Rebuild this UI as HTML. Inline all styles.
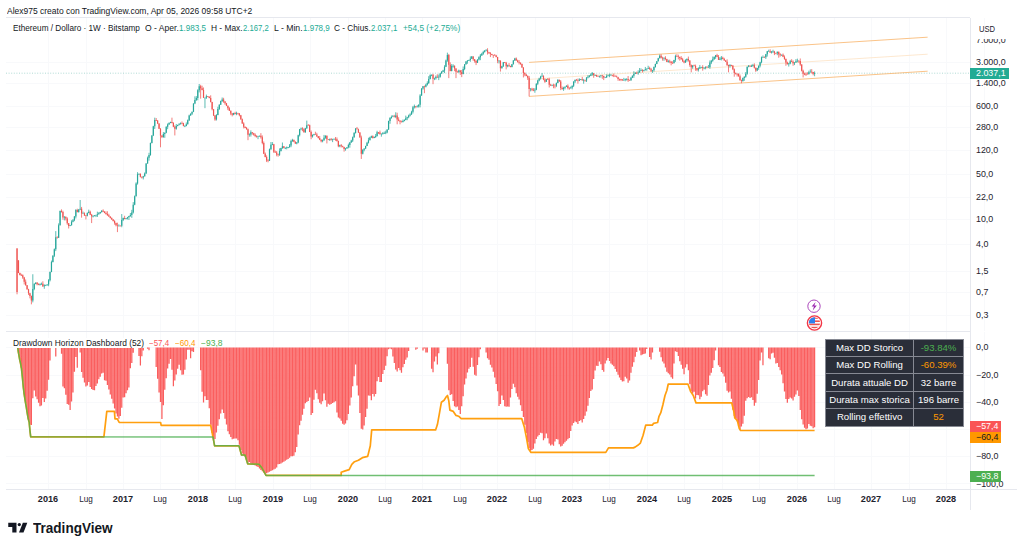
<!DOCTYPE html>
<html><head><meta charset="utf-8"><title>ETHUSD chart</title>
<style>
html,body{margin:0;padding:0;background:#fff;}
body{width:1024px;height:548px;position:relative;overflow:hidden;font-family:"Liberation Sans",sans-serif;color:#131722;}
.t{position:absolute;white-space:nowrap;font-size:8.6px;line-height:10px;height:10px;}
.c{transform:translateX(-50%);}
.b{font-weight:bold;}
.teal{color:#22ab94;}
.ax{font-size:8.7px;color:#1e222d;}
.lab{position:absolute;left:970px;width:31px;height:11.3px;line-height:11.3px;font-size:8.9px;color:#fff;box-sizing:border-box;padding-left:6px;white-space:nowrap;}
table{position:absolute;left:824.8px;top:338.7px;border-collapse:collapse;font-size:9.6px;color:#fff;}
td{background:#2a2e39;border:1px solid #868993;height:16.4px;padding:0;text-align:center;white-space:nowrap;line-height:16px;}
td.k{width:87.6px;} td.v{width:48.3px;}
</style></head><body>
<svg width="1024" height="548" viewBox="0 0 1024 548" style="position:absolute;left:0;top:0"><path d="M6 62.5H970M6 83.5H970M6 106.5H970M6 127.5H970M6 150.5H970M6 174.5H970M6 197.5H970M6 219.5H970M6 244.5H970M6 271.5H970M6 292.5H970M6 315.5H970M6 347.5H970M6 375.5H970M6 402.5H970M6 429.5H970M6 456.5H970M6 483.5H970M48.5 18V331M48.5 332V489M86.5 18V331M86.5 332V489M123.5 18V331M123.5 332V489M160.5 18V331M160.5 332V489M198.5 18V331M198.5 332V489M235.5 18V331M235.5 332V489M273.5 18V331M273.5 332V489M310.5 18V331M310.5 332V489M348.5 18V331M348.5 332V489M385.5 18V331M385.5 332V489M422.5 18V331M422.5 332V489M460.5 18V331M460.5 332V489M497.5 18V331M497.5 332V489M535.5 18V331M535.5 332V489M572.5 18V331M572.5 332V489M609.5 18V331M609.5 332V489M647.5 18V331M647.5 332V489M684.5 18V331M684.5 332V489M722.5 18V331M722.5 332V489M759.5 18V331M759.5 332V489M797.5 18V331M797.5 332V489M834.5 18V331M834.5 332V489M871.5 18V331M871.5 332V489M909.5 18V331M909.5 332V489M946.5 18V331M946.5 332V489M984.5 18V331M984.5 332V489" stroke="#f8f9fb" stroke-width="1" fill="none"/><path d="M6 17.5H970M6 331.5H970M6 489.5H1017M970.5 18V510" stroke="#e6e8ee" stroke-width="1" fill="none"/><path d="M6 73.2H970" stroke="#5fb5aa" stroke-width="0.7" stroke-dasharray="1 1.6" fill="none" opacity="0.7"/><path d="M529.1 62.4L927.6 37.2M529.1 96.4L927.6 71.2" stroke="#f9b46a" stroke-width="0.8" fill="none"/><path d="M529.1 79.4L927.6 54.2" stroke="#fde2c4" stroke-width="0.8" fill="none"/><path d="M32.82 274.24V302.36M34.26 283.09V290.19M35.69 282.24V284.25M39.99 283.39V285.61M41.43 282.55V284.68M44.30 284.33V288.80M45.73 284.65V286.08M47.17 284.25V285.93M48.60 279.10V286.21M50.03 271.50V281.41M51.47 260.60V272.21M52.90 255.20V262.46M54.34 248.44V257.04M55.77 231.10V251.10M58.64 223.36V238.01M60.08 210.49V225.53M64.38 216.15V220.40M70.12 224.91V226.20M71.55 220.26V225.48M72.99 219.04V222.27M74.42 216.02V221.20M75.85 209.16V218.50M78.72 209.15V212.73M80.16 200.00V210.15M83.03 211.55V213.67M87.33 212.40V216.38M88.76 209.63V213.34M93.07 215.08V217.43M94.50 215.02V216.09M95.94 214.71V217.08M97.37 211.67V216.97M98.81 212.17V214.61M100.24 211.74V213.73M101.67 210.17V212.64M118.89 224.34V226.38M121.76 214.04V227.26M123.19 217.62V221.05M126.06 218.01V219.46M127.49 216.90V219.46M128.93 215.82V220.00M130.36 213.00V216.88M131.80 209.84V217.84M133.23 202.11V213.54M134.67 195.52V205.25M136.10 182.31V196.46M137.54 172.18V184.65M138.97 173.28V174.77M143.27 175.83V179.44M144.71 172.44V176.65M146.14 163.20V173.84M147.58 156.55V163.73M149.01 152.80V160.65M150.45 142.55V155.75M151.88 135.27V143.43M153.32 125.78V136.08M154.75 117.66V128.94M163.36 132.10V137.82M164.79 132.59V137.81M166.23 126.29V133.23M167.66 123.44V129.18M169.09 122.28V124.80M170.53 121.71V123.24M176.27 123.99V129.69M177.70 124.64V126.35M179.14 123.03V125.39M180.57 122.43V124.39M184.87 125.16V127.13M186.31 122.44V126.31M187.74 119.51V124.48M189.18 114.67V121.01M190.61 113.37V115.73M192.05 111.63V115.05M193.48 103.37V112.14M194.91 96.33V104.16M196.35 96.15V100.89M197.78 89.23V100.28M199.22 84.01V92.45M204.96 97.47V108.18M206.39 94.60V98.93M216.43 114.12V120.50M217.87 106.77V115.34M219.30 104.23V109.96M220.73 100.62V104.92M222.17 97.52V102.05M233.64 112.75V115.24M236.51 111.68V115.21M249.42 133.40V136.66M250.86 130.39V136.57M258.03 135.78V139.18M259.46 135.69V136.54M269.51 148.56V161.03M270.94 142.02V149.88M272.38 142.08V145.18M279.55 148.38V155.86M280.98 147.83V151.54M282.42 142.51V148.92M285.29 147.53V149.16M286.72 146.53V149.39M288.15 146.94V148.27M289.59 144.00V147.77M291.02 139.69V147.23M292.46 138.79V141.85M296.76 142.05V144.32M298.20 134.68V143.22M299.63 128.94V136.46M301.06 127.58V130.25M305.37 127.84V132.77M306.80 120.60V128.93M312.54 134.46V137.61M313.97 133.83V135.55M322.58 139.44V142.32M324.02 134.92V140.77M325.45 135.13V138.75M329.75 138.52V140.94M332.62 138.76V142.13M334.06 138.71V139.60M339.79 144.72V147.23M345.53 147.92V150.69M346.97 147.08V148.73M348.40 143.65V148.28M349.84 141.96V147.71M351.27 139.77V142.75M352.70 136.55V142.04M354.14 132.09V137.74M355.57 128.08V133.52M362.75 149.29V154.45M364.18 148.40V151.34M365.61 145.72V149.08M367.05 141.83V146.12M368.48 137.75V143.53M369.92 136.71V140.33M371.35 135.64V138.09M374.22 136.44V138.21M375.66 134.00V137.91M377.09 130.76V136.58M381.39 133.50V136.66M382.83 132.05V134.67M384.26 131.59V134.01M385.70 130.68V134.13M387.13 129.38V133.31M388.57 120.65V129.88M390.00 117.13V123.77M391.43 115.51V118.72M392.87 115.02V117.17M395.74 112.25V118.13M402.91 119.56V122.50M404.35 119.27V121.34M405.78 115.61V120.27M407.21 116.75V120.19M408.65 114.65V118.24M410.08 113.30V116.41M411.52 110.78V114.81M412.95 105.90V113.44M414.39 104.59V108.47M417.26 105.17V107.19M418.69 104.33V107.58M420.12 94.13V107.37M421.56 88.22V95.82M422.99 86.03V89.65M425.86 83.74V87.38M427.30 81.30V85.63M428.73 76.18V84.00M430.17 74.27V79.43M431.60 74.61V76.18M434.47 77.67V80.14M435.90 75.45V79.67M438.77 74.50V80.14M440.21 72.89V77.66M441.64 71.09V73.82M443.08 69.82V72.04M444.51 65.24V73.14M445.94 59.56V67.06M447.38 52.66V61.84M451.68 64.12V71.38M453.12 64.27V67.62M458.85 69.64V73.06M463.16 66.48V74.35M464.59 64.21V70.15M466.03 61.08V64.71M467.46 60.25V63.78M468.90 59.72V60.92M470.33 56.42V61.79M471.76 56.09V58.93M477.50 59.28V62.94M478.94 56.34V60.43M480.37 53.97V60.17M481.81 52.80V55.88M483.24 50.76V54.88M484.67 50.03V52.62M486.11 49.08V51.19M499.02 60.03V63.44M501.89 65.76V68.49M503.32 62.01V66.98M507.63 64.64V67.29M511.93 63.98V67.37M513.36 60.02V64.47M514.80 57.85V60.88M530.58 88.17V91.37M534.88 88.15V92.76M536.32 83.22V90.23M537.75 79.69V85.12M539.18 77.72V81.32M540.62 75.78V79.60M542.05 73.05V76.58M546.36 79.06V81.94M552.09 84.45V86.14M556.40 82.43V87.07M557.83 79.07V83.33M563.57 86.79V90.84M565.00 86.52V89.40M566.44 85.25V87.01M570.74 86.50V88.61M572.18 85.49V89.33M573.61 81.39V87.04M575.05 79.69V83.09M579.35 78.28V81.14M580.78 78.99V80.09M583.65 78.92V83.71M586.52 77.19V82.03M587.96 75.18V78.40M589.39 75.09V77.46M590.82 73.20V76.13M592.26 72.03V75.57M595.13 74.47V76.00M599.43 75.60V77.68M600.87 75.08V77.67M605.17 76.83V78.09M606.60 74.36V77.74M608.04 74.58V76.41M609.47 73.70V77.19M610.91 73.87V75.53M623.82 77.88V80.54M625.25 78.50V81.30M626.69 78.19V80.54M630.99 76.85V80.86M632.42 75.36V78.08M633.86 71.19V77.84M635.29 71.99V74.04M638.16 70.31V74.77M639.60 68.00V72.73M641.03 68.39V71.01M643.90 69.78V71.45M645.33 66.96V70.64M646.77 68.46V70.79M648.20 65.76V68.93M652.51 69.89V72.92M653.94 66.48V71.60M655.38 63.62V67.66M656.81 61.01V64.20M658.24 57.82V61.45M659.68 54.52V58.38M663.98 57.52V60.79M668.29 59.80V62.71M674.02 59.80V63.60M675.46 54.67V61.88M685.50 59.35V62.79M686.93 58.30V61.77M692.67 65.19V68.77M698.41 67.36V71.54M699.84 64.96V68.87M701.28 66.80V67.91M704.15 67.32V69.26M705.58 66.52V69.32M708.45 65.02V67.63M709.88 60.44V68.80M711.32 59.92V64.11M712.75 56.53V61.81M714.19 56.34V59.80M715.62 54.98V58.80M719.93 57.05V60.10M721.36 56.00V60.40M729.97 64.11V67.63M742.88 77.52V81.71M744.31 76.27V80.82M745.75 72.06V77.66M747.18 66.49V74.74M748.61 65.05V67.27M751.48 64.75V66.65M752.92 63.86V66.76M757.22 67.74V71.15M758.66 65.43V69.83M760.09 61.78V67.35M761.53 56.53V63.31M762.96 55.48V57.86M765.83 53.93V58.94M767.26 50.94V56.59M768.70 49.70V51.63M771.57 50.97V53.52M773.00 49.76V52.65M777.30 51.56V55.18M781.61 54.58V55.60M788.78 62.98V66.57M790.21 59.92V64.30M794.52 62.22V65.08M795.95 59.13V62.75M797.39 58.68V62.31M808.86 70.71V74.74M810.30 69.38V72.58M814.60 71.41V76.22" stroke="#26a69a" stroke-width="0.75" fill="none"/><path d="M17.04 248.15V294.30M18.48 260.10V273.13M19.91 272.57V275.37M21.34 273.79V275.58M22.78 274.37V278.87M24.21 276.90V284.47M25.65 279.50V285.62M27.08 285.00V289.79M28.52 288.84V294.93M29.95 292.87V298.36M31.39 295.51V304.33M37.12 282.00V285.30M38.56 283.36V285.18M42.86 281.30V287.00M57.21 236.24V238.66M61.51 209.38V212.60M62.94 210.70V219.76M65.81 216.50V220.41M67.25 217.31V224.72M68.68 223.02V228.49M77.29 208.76V212.45M81.59 206.94V217.66M84.46 212.39V215.94M85.90 214.97V219.46M90.20 210.66V215.09M91.63 213.90V223.07M103.11 209.33V212.12M104.54 211.10V213.22M105.98 211.33V214.67M107.41 211.27V215.76M108.85 213.73V216.90M110.28 216.32V218.50M111.72 217.37V219.76M113.15 219.03V221.51M114.58 220.21V224.68M116.02 222.61V226.37M117.45 222.68V232.10M120.32 225.42V226.32M124.63 215.75V219.27M140.40 173.27V177.46M141.84 176.61V178.51M156.18 118.00V121.06M157.62 120.18V124.05M159.05 123.36V128.96M160.49 128.12V147.29M161.92 135.27V138.08M171.96 117.66V123.41M173.40 122.21V127.16M174.83 125.33V135.44M182.00 121.46V124.26M183.44 122.81V126.33M200.65 84.81V98.70M202.09 85.69V90.33M203.52 87.47V98.04M207.82 96.05V97.14M209.26 96.39V98.32M210.69 95.30V102.41M212.13 101.81V110.37M213.56 108.96V116.06M215.00 115.05V120.82M223.60 97.80V102.80M225.04 101.11V104.80M226.47 102.92V106.08M227.91 105.54V110.10M229.34 107.15V111.00M230.78 110.49V115.20M232.21 112.97V116.40M235.08 111.80V114.37M237.95 112.77V114.65M239.38 113.00V116.34M240.82 114.90V119.82M242.25 118.55V123.84M243.69 122.28V128.43M245.12 126.57V128.23M246.55 126.96V129.71M247.99 128.50V140.18M252.29 132.05V134.68M253.73 132.80V135.68M255.16 133.42V137.20M256.60 135.23V137.64M260.90 133.15V138.64M262.33 135.41V144.30M263.77 141.49V154.05M265.20 152.51V157.36M266.64 155.36V162.05M268.07 159.20V162.32M273.81 143.88V152.97M275.24 150.59V152.79M276.68 151.02V156.28M278.11 153.60V156.63M283.85 146.10V148.39M293.89 139.40V142.22M295.33 141.34V143.96M302.50 127.29V131.17M303.93 128.25V132.59M308.24 124.00V125.64M309.67 124.60V132.14M311.11 130.51V139.23M315.41 131.72V134.74M316.84 132.78V136.96M318.28 136.00V138.50M319.71 136.07V140.12M321.15 139.40V142.37M326.88 135.12V143.43M328.32 139.06V140.11M331.19 138.00V140.54M335.49 136.99V140.84M336.93 137.44V141.59M338.36 140.60V147.20M341.23 144.07V147.46M342.66 145.66V147.43M344.10 146.74V151.64M357.01 126.96V129.38M358.44 128.64V133.02M359.88 132.16V137.61M361.31 135.65V158.95M372.79 135.38V138.52M378.52 132.02V134.04M379.96 130.56V134.77M394.30 114.86V117.41M397.17 112.73V124.29M398.61 117.26V121.21M400.04 120.08V124.29M401.48 120.66V122.24M415.82 106.15V108.24M424.43 85.63V93.19M433.03 73.83V84.16M437.34 74.27V77.79M448.81 53.94V78.14M450.25 62.34V71.29M454.55 65.46V71.16M455.99 68.21V78.14M457.42 70.73V72.55M460.29 70.13V74.96M461.72 69.98V77.13M473.20 56.24V60.85M474.63 59.02V62.63M476.07 60.11V65.10M487.54 48.26V54.55M488.98 51.93V53.76M490.41 52.17V57.07M491.85 53.79V55.27M493.28 54.73V57.97M494.72 54.03V55.58M496.15 54.83V57.37M497.58 56.90V63.23M500.45 60.33V71.59M504.76 61.99V63.10M506.19 61.88V69.40M509.06 63.13V66.98M510.49 65.73V67.35M516.23 57.44V60.75M517.67 59.69V62.59M519.10 60.10V64.42M520.54 62.36V64.79M521.97 63.59V67.84M523.41 67.24V77.43M524.84 72.28V76.24M526.27 74.16V76.25M527.71 75.34V79.90M529.14 75.96V96.40M532.01 87.79V91.10M533.45 88.10V91.16M543.49 75.46V80.21M544.92 78.48V82.84M547.79 78.02V79.60M549.23 77.79V87.48M550.66 83.81V85.87M553.53 83.67V88.23M554.96 84.02V88.38M559.27 79.38V81.78M560.70 80.04V90.13M562.14 86.51V89.78M567.87 84.36V89.40M569.31 87.16V89.77M576.48 78.95V80.60M577.91 78.55V83.62M582.22 76.90V80.79M585.09 79.62V81.66M593.69 73.05V77.78M596.56 74.71V76.90M598.00 75.52V76.76M602.30 74.91V78.83M603.73 75.70V80.09M612.34 74.77V76.36M613.78 73.50V77.10M615.21 75.21V76.64M616.64 75.51V77.29M618.08 76.84V80.79M619.51 78.63V80.77M620.95 78.80V81.12M622.38 79.06V80.86M628.12 76.04V81.95M629.55 79.60V80.54M636.73 71.64V73.64M642.47 69.22V72.49M649.64 66.73V69.67M651.07 67.92V72.02M661.11 54.20V58.47M662.55 56.74V60.65M665.42 56.18V60.22M666.85 58.78V62.16M669.72 59.65V63.21M671.15 60.97V65.32M672.59 61.34V63.74M676.89 54.24V56.95M678.33 54.65V59.32M679.76 56.57V60.62M681.20 56.10V59.77M682.63 57.84V61.93M684.06 60.31V63.27M688.37 56.59V61.68M689.80 60.23V66.78M691.24 64.46V72.32M694.11 64.58V66.34M695.54 64.62V70.77M696.97 68.02V71.16M702.71 65.18V70.68M707.02 66.32V67.70M717.06 53.80V57.17M718.49 55.00V59.95M722.79 56.68V59.34M724.23 57.81V60.75M725.66 60.08V61.94M727.10 59.35V65.98M728.53 64.68V72.32M731.40 64.78V66.10M732.84 65.19V70.12M734.27 68.49V76.70M735.70 72.48V74.52M737.14 73.50V76.57M738.57 73.28V76.68M740.01 74.59V80.58M741.44 79.61V83.27M750.05 65.56V67.05M754.35 63.35V68.49M755.79 67.57V71.89M764.39 56.39V57.84M770.13 49.31V52.88M774.44 50.90V55.10M775.87 52.70V54.20M778.74 51.61V57.73M780.17 53.16V56.70M783.04 53.49V57.13M784.48 55.44V59.76M785.91 58.50V65.76M787.35 61.62V64.45M791.65 59.19V61.93M793.08 60.37V65.77M798.82 60.31V62.66M800.26 58.47V65.84M801.69 64.27V71.45M803.12 69.67V77.43M804.56 72.76V75.13M805.99 72.39V75.97M807.43 72.34V74.16M811.73 69.11V73.55M813.17 71.88V75.31" stroke="#ef5350" stroke-width="0.75" fill="none"/><path d="M32.82 288.99V300.44M34.26 283.91V288.99M35.69 282.87V283.91M39.99 284.37V285.01M41.43 283.82V284.42M44.30 285.25V286.26M45.73 284.98V285.58M47.17 284.42V285.02M48.60 280.22V284.42M50.03 272.01V280.22M51.47 261.99V272.01M52.90 255.79V261.99M54.34 249.33V255.79M55.77 237.24V249.33M58.64 225.23V237.68M60.08 210.88V225.23M64.38 216.74V217.60M70.12 225.13V226.02M71.55 221.72V225.13M72.99 220.28V221.72M74.42 216.59V220.28M75.85 210.09V216.59M78.72 209.46V211.89M80.16 208.75V209.46M83.03 213.25V213.85M87.33 212.96V215.75M88.76 211.86V212.96M93.07 215.89V216.49M94.50 215.58V216.18M95.94 215.15V215.75M97.37 214.28V215.15M98.81 213.23V214.28M100.24 212.08V213.23M101.67 210.65V212.08M118.89 225.76V226.36M121.76 220.07V225.76M123.19 217.89V220.07M126.06 218.21V218.93M127.49 217.16V218.21M128.93 216.07V217.16M130.36 215.06V216.07M131.80 212.40V215.06M133.23 204.78V212.40M134.67 196.17V204.78M136.10 183.60V196.17M137.54 174.17V183.60M138.97 173.97V174.57M143.27 176.20V177.53M144.71 173.62V176.20M146.14 163.50V173.62M147.58 157.84V163.50M149.01 155.04V157.84M150.45 142.91V155.04M151.88 135.44V142.91M153.32 126.19V135.44M154.75 120.03V126.19M163.36 133.93V136.89M164.79 132.85V133.93M166.23 126.70V132.85M167.66 124.38V126.70M169.09 123.09V124.38M170.53 122.07V123.09M176.27 125.88V128.71M177.70 125.08V125.88M179.14 124.22V125.08M180.57 123.24V124.22M184.87 125.96V126.56M186.31 124.18V125.96M187.74 120.16V124.18M189.18 115.56V120.16M190.61 113.78V115.56M192.05 111.81V113.78M193.48 103.58V111.81M194.91 99.89V103.58M196.35 98.00V99.89M197.78 90.19V98.00M199.22 86.25V90.19M204.96 97.65V98.25M206.39 96.33V97.65M216.43 115.01V119.46M217.87 109.03V115.01M219.30 104.67V109.03M220.73 100.93V104.67M222.17 99.48V100.93M233.64 113.04V114.73M236.51 113.25V114.07M249.42 134.45V135.05M250.86 132.21V134.45M258.03 136.21V136.86M259.46 135.87V136.47M269.51 149.29V160.77M270.94 144.84V149.29M272.38 144.34V144.94M279.55 151.02V154.79M280.98 148.02V151.02M282.42 146.25V148.02M285.29 147.81V148.41M286.72 147.40V148.00M288.15 147.12V147.72M289.59 145.52V147.12M291.02 140.89V145.52M292.46 139.90V140.89M296.76 142.56V143.43M298.20 135.26V142.56M299.63 129.23V135.26M301.06 128.61V129.23M305.37 128.25V132.19M306.80 125.27V128.25M312.54 134.92V136.60M313.97 134.17V134.92M322.58 140.34V141.30M324.02 137.67V140.34M325.45 135.96V137.67M329.75 139.28V139.88M332.62 139.26V139.86M334.06 138.86V139.46M339.79 145.27V146.13M345.53 148.53V149.13M346.97 147.29V148.53M348.40 145.01V147.29M349.84 142.43V145.01M351.27 140.39V142.43M352.70 137.26V140.39M354.14 133.10V137.26M355.57 128.48V133.10M362.75 149.82V153.79M364.18 148.59V149.82M365.61 145.95V148.59M367.05 142.87V145.95M368.48 140.14V142.87M369.92 137.45V140.14M371.35 136.17V137.45M374.22 136.99V137.89M375.66 136.01V136.99M377.09 132.31V136.01M381.39 133.72V134.32M382.83 133.31V133.91M384.26 133.21V133.81M385.70 132.49V133.21M387.13 129.61V132.49M388.57 121.01V129.61M390.00 118.03V121.01M391.43 117.00V118.03M392.87 116.51V117.11M395.74 115.48V116.98M402.91 121.02V121.92M404.35 119.98V121.02M405.78 118.23V119.98M407.21 117.33V118.23M408.65 115.60V117.33M410.08 114.53V115.60M411.52 111.78V114.53M412.95 107.22V111.78M414.39 106.33V107.22M417.26 106.54V107.14M418.69 104.67V106.54M420.12 95.47V104.67M421.56 88.53V95.47M422.99 86.22V88.53M425.86 84.67V86.77M427.30 82.97V84.67M428.73 79.00V82.97M430.17 75.20V79.00M431.60 74.80V75.40M434.47 78.25V78.86M435.90 76.63V78.25M438.77 76.75V77.59M440.21 73.58V76.75M441.64 71.82V73.58M443.08 70.38V71.82M444.51 66.86V70.38M445.94 60.58V66.86M447.38 55.06V60.58M451.68 65.91V71.12M453.12 65.85V66.45M458.85 70.42V71.88M463.16 68.91V73.98M464.59 64.37V68.91M466.03 61.48V64.37M467.46 60.40V61.48M468.90 60.08V60.68M470.33 58.71V60.08M471.76 56.60V58.71M477.50 59.48V62.77M478.94 57.34V59.48M480.37 55.54V57.34M481.81 53.75V55.54M483.24 51.99V53.75M484.67 50.73V51.99M486.11 50.25V50.85M499.02 60.67V61.27M501.89 66.14V68.34M503.32 62.33V66.14M507.63 65.18V66.16M511.93 64.20V67.11M513.36 60.62V64.20M514.80 58.47V60.62M530.58 88.69V89.29M534.88 89.72V90.54M536.32 83.66V89.72M537.75 80.40V83.66M539.18 78.43V80.40M540.62 76.40V78.43M542.05 75.65V76.40M546.36 79.34V81.73M552.09 85.26V85.86M556.40 83.00V85.79M557.83 80.01V83.00M563.57 87.83V89.11M565.00 86.68V87.83M566.44 85.77V86.68M570.74 87.53V88.14M572.18 85.80V87.53M573.61 81.59V85.80M575.05 79.86V81.59M579.35 79.59V80.79M580.78 79.31V79.91M583.65 80.24V80.84M586.52 77.60V80.46M587.96 76.74V77.60M589.39 75.84V76.74M590.82 74.47V75.84M592.26 73.22V74.47M595.13 74.99V75.59M599.43 75.98V76.58M600.87 75.47V76.07M605.17 77.47V78.07M606.60 75.91V77.47M608.04 75.38V75.98M609.47 75.00V75.60M610.91 74.95V75.55M623.82 80.01V80.61M625.25 79.29V80.01M626.69 78.89V79.49M630.99 77.85V80.32M632.42 75.67V77.85M633.86 73.88V75.67M635.29 73.12V73.88M638.16 72.54V73.32M639.60 70.67V72.54M641.03 69.89V70.67M643.90 70.01V70.82M645.33 69.35V70.01M646.77 68.68V69.35M648.20 68.00V68.68M652.51 70.18V70.78M653.94 66.98V70.18M655.38 63.91V66.98M656.81 61.25V63.91M658.24 58.18V61.25M659.68 55.80V58.18M663.98 57.73V58.40M668.29 61.13V62.00M674.02 60.02V63.03M675.46 56.00V60.02M685.50 60.33V62.58M686.93 58.94V60.33M692.67 65.49V67.18M698.41 68.48V69.80M699.84 67.15V68.48M701.28 66.99V67.59M704.15 67.64V68.24M705.58 66.75V67.64M708.45 67.24V67.84M709.88 62.45V67.24M711.32 60.72V62.45M712.75 59.34V60.72M714.19 56.98V59.34M715.62 55.14V56.98M719.93 58.65V59.75M721.36 57.86V58.65M729.97 65.03V65.98M742.88 78.12V81.10M744.31 76.87V78.12M745.75 73.84V76.87M747.18 66.86V73.84M748.61 65.78V66.86M751.48 66.05V66.65M752.92 65.26V66.05M757.22 68.06V70.55M758.66 65.67V68.06M760.09 62.26V65.67M761.53 57.34V62.26M762.96 56.99V57.59M765.83 54.26V57.28M767.26 51.33V54.26M768.70 51.20V51.80M771.57 51.70V52.62M773.00 51.58V52.18M777.30 51.78V53.29M781.61 54.79V55.39M788.78 63.39V64.30M790.21 61.31V63.39M794.52 62.39V63.29M795.95 61.33V62.39M797.39 60.66V61.33M808.86 72.22V73.94M810.30 71.71V72.31M814.60 73.07V73.67" stroke="#26a69a" stroke-width="1.2" fill="none"/><path d="M17.04 248.50V292.00M18.48 260.42V272.91M19.91 272.91V275.06M21.34 275.06V275.66M22.78 275.24V277.46M24.21 277.46V281.68M25.65 281.68V285.27M27.08 285.27V289.37M28.52 289.37V293.21M29.95 293.21V296.08M31.39 296.08V300.44M37.12 282.87V284.29M38.56 284.29V285.01M42.86 283.82V286.26M57.21 237.24V237.84M61.51 210.88V212.09M62.94 212.09V217.60M65.81 216.74V218.55M67.25 218.55V223.21M68.68 223.21V226.02M77.29 210.09V211.89M81.59 208.75V213.38M84.46 213.25V215.50M85.90 215.50V216.10M90.20 211.86V214.73M91.63 214.73V216.26M103.11 210.65V211.82M104.54 211.82V213.03M105.98 213.03V214.11M107.41 214.11V215.15M108.85 215.15V216.58M110.28 216.58V218.02M111.72 218.02V219.45M113.15 219.45V220.89M114.58 220.89V222.95M116.02 222.95V225.25M117.45 225.25V225.86M120.32 225.76V226.36M124.63 217.89V218.93M140.40 173.97V176.84M141.84 176.84V177.53M156.18 120.03V120.63M157.62 120.50V123.57M159.05 123.57V128.68M160.49 128.68V135.52M161.92 135.52V136.89M171.96 122.07V122.90M173.40 122.90V126.87M174.83 126.87V128.71M182.00 123.24V123.84M183.44 123.34V125.96M200.65 86.25V88.29M202.09 88.29V90.01M203.52 90.01V97.70M207.82 96.33V96.93M209.26 96.63V98.01M210.69 98.01V102.12M212.13 102.12V109.29M213.56 109.29V115.45M215.00 115.45V119.46M223.60 99.48V101.47M225.04 101.47V103.27M226.47 103.27V105.87M227.91 105.87V108.19M229.34 108.19V110.67M230.78 110.67V113.56M232.21 113.56V114.73M235.08 113.04V114.07M237.95 113.25V113.85M239.38 113.50V115.25M240.82 115.25V119.22M242.25 119.22V123.61M243.69 123.61V126.78M245.12 126.78V127.91M246.55 127.91V129.30M247.99 129.30V134.87M252.29 132.21V133.37M253.73 133.37V134.84M255.16 134.84V135.93M256.60 135.93V136.86M260.90 135.87V137.23M262.33 137.23V143.02M263.77 143.02V153.86M265.20 153.86V156.90M266.64 156.90V160.43M268.07 160.43V161.03M273.81 144.34V151.69M275.24 151.69V152.61M276.68 152.61V154.40M278.11 154.40V155.00M283.85 146.25V147.99M293.89 139.90V141.69M295.33 141.69V143.43M302.50 128.61V129.28M303.93 129.28V132.19M308.24 125.27V125.87M309.67 125.29V131.94M311.11 131.94V136.60M315.41 134.17V134.77M316.84 134.52V136.15M318.28 136.15V137.94M319.71 137.94V139.86M321.15 139.86V141.30M326.88 135.96V139.27M328.32 139.27V139.87M331.19 139.28V139.88M335.49 138.86V139.46M336.93 139.15V140.90M338.36 140.90V146.13M341.23 145.27V146.13M342.66 146.13V147.02M344.10 147.02V148.90M357.01 128.48V129.15M358.44 129.15V132.44M359.88 132.44V137.43M361.31 137.43V153.79M372.79 136.17V137.89M378.52 132.31V132.91M379.96 132.46V133.98M394.30 116.51V117.11M397.17 115.48V119.62M398.61 119.62V120.64M400.04 120.64V121.67M401.48 121.67V122.27M415.82 106.33V107.03M424.43 86.22V86.82M433.03 74.80V78.86M437.34 76.63V77.59M448.81 55.06V64.63M450.25 64.63V71.12M454.55 65.85V68.57M455.99 68.57V71.64M457.42 71.64V72.24M460.29 70.42V72.26M461.72 72.26V73.98M473.20 56.60V59.25M474.63 59.25V61.00M476.07 61.00V62.77M487.54 50.25V52.17M488.98 52.17V53.22M490.41 53.22V54.06M491.85 54.06V54.91M493.28 54.91V55.51M494.72 55.21V55.81M496.15 55.42V57.07M497.58 57.07V60.75M500.45 60.67V68.34M504.76 62.33V62.93M506.19 62.68V66.16M509.06 65.18V66.05M510.49 66.05V67.11M516.23 58.47V60.60M517.67 60.60V61.89M519.10 61.89V62.78M520.54 62.78V64.10M521.97 64.10V67.49M523.41 67.49V73.03M524.84 73.03V74.40M526.27 74.40V76.02M527.71 76.02V77.86M529.14 77.86V89.09M532.01 88.69V89.64M533.45 89.64V90.54M543.49 75.65V79.50M544.92 79.50V81.73M547.79 79.34V79.94M549.23 79.37V84.64M550.66 84.64V85.46M553.53 85.26V85.86M554.96 85.77V86.37M559.27 80.01V81.38M560.70 81.38V87.89M562.14 87.89V89.11M567.87 85.77V88.02M569.31 88.02V88.62M576.48 79.86V80.46M577.91 80.40V81.00M582.22 79.31V80.34M585.09 80.24V80.84M593.69 73.22V75.06M596.56 74.99V76.20M598.00 76.20V76.80M602.30 75.47V76.07M603.73 75.99V77.57M612.34 74.95V75.55M613.78 75.54V76.14M615.21 76.01V76.61M616.64 76.45V77.14M618.08 77.14V78.89M619.51 78.89V79.49M620.95 79.12V79.72M622.38 79.62V80.22M628.12 78.89V80.18M629.55 80.18V80.78M636.73 73.12V73.72M642.47 69.89V70.82M649.64 68.00V69.36M651.07 69.36V70.72M661.11 55.80V57.78M662.55 57.78V58.40M665.42 57.73V59.08M666.85 59.08V62.00M669.72 61.13V61.73M671.15 61.73V62.90M672.59 62.90V63.50M676.89 56.00V56.60M678.33 56.41V57.01M679.76 56.90V58.02M681.20 58.02V59.31M682.63 59.31V61.30M684.06 61.30V62.58M688.37 58.94V60.49M689.80 60.49V65.09M691.24 65.09V67.18M694.11 65.49V66.09M695.54 66.03V68.22M696.97 68.22V69.80M702.71 66.99V68.04M707.02 66.75V67.48M717.06 55.14V56.84M718.49 56.84V59.75M722.79 57.86V58.97M724.23 58.97V60.41M725.66 60.41V61.74M727.10 61.74V65.11M728.53 65.11V65.98M731.40 65.03V65.63M732.84 65.42V69.13M734.27 69.13V73.12M735.70 73.12V73.83M737.14 73.83V74.43M738.57 73.91V76.34M740.01 76.34V80.34M741.44 80.34V81.10M750.05 65.78V66.38M754.35 65.26V67.80M755.79 67.80V70.55M764.39 56.99V57.59M770.13 51.20V52.62M774.44 51.58V53.22M775.87 53.22V53.82M778.74 51.78V54.21M780.17 54.21V55.25M783.04 54.79V56.86M784.48 56.86V59.06M785.91 59.06V62.51M787.35 62.51V64.30M791.65 61.31V61.91M793.08 61.72V63.29M798.82 60.66V61.26M800.26 61.08V64.58M801.69 64.58V70.67M803.12 70.67V73.83M804.56 73.83V74.43M805.99 73.84V74.44M807.43 73.89V74.49M811.73 71.71V72.31M813.17 72.04V73.67" stroke="#ef5350" stroke-width="1.2" fill="none"/><path d="M18.48 347.4V352.48M19.91 347.4V360.48M21.34 347.4V367.83M22.78 347.4V381.57M24.21 347.4V394.31M25.65 347.4V403.23M27.08 347.4V411.84M28.52 347.4V419.82M29.95 347.4V424.76M31.39 347.4V424.96M32.82 347.4V398.15M34.26 347.4V390.55M35.69 347.4V396.59M37.12 347.4V399.28M38.56 347.4V402.77M39.99 347.4V406.36M41.43 347.4V405.42M42.86 347.4V398.02M44.30 347.4V402.07M45.73 347.4V398.48M47.17 347.4V390.67M48.60 347.4V379.87M50.03 347.4V360.38M55.77 347.4V356.54M61.51 347.4V353.72M62.94 347.4V386.59M64.38 347.4V388.23M65.81 347.4V394.79M67.25 347.4V404.08M68.68 347.4V404.78M70.12 347.4V409.90M71.55 347.4V401.61M72.99 347.4V392.39M74.42 347.4V371.78M75.85 347.4V357.12M77.29 347.4V367.77M80.16 347.4V352.58M81.59 347.4V371.88M83.03 347.4V377.84M84.46 347.4V382.49M85.90 347.4V386.62M87.33 347.4V385.43M88.76 347.4V381.97M90.20 347.4V387.10M91.63 347.4V389.00M93.07 347.4V390.00M94.50 347.4V390.19M95.94 347.4V385.98M97.37 347.4V383.43M98.81 347.4V379.36M100.24 347.4V376.69M101.67 347.4V373.41M103.11 347.4V372.87M104.54 347.4V380.29M105.98 347.4V380.76M107.41 347.4V384.97M108.85 347.4V389.42M110.28 347.4V394.45M111.72 347.4V398.77M113.15 347.4V403.46M114.58 347.4V408.59M116.02 347.4V413.44M117.45 347.4V416.45M118.89 347.4V418.86M120.32 347.4V416.05M121.76 347.4V407.81M123.19 347.4V397.48M124.63 347.4V397.36M126.06 347.4V393.35M127.49 347.4V390.34M128.93 347.4V387.57M130.36 347.4V368.37M131.80 347.4V363.12M133.23 347.4V352.84M138.97 347.4V356.11M140.40 347.4V365.40M141.84 347.4V356.37M143.27 347.4V350.46M147.58 347.4V348.72M149.01 347.4V350.21M156.18 347.4V366.88M157.62 347.4V378.76M159.05 347.4V392.50M160.49 347.4V401.91M161.92 347.4V419.01M163.36 347.4V405.21M164.79 347.4V389.63M166.23 347.4V378.15M167.66 347.4V368.58M169.09 347.4V363.64M170.53 347.4V359.05M171.96 347.4V369.78M173.40 347.4V386.27M174.83 347.4V380.58M176.27 347.4V374.45M177.70 347.4V368.72M179.14 347.4V364.63M180.57 347.4V370.37M182.00 347.4V374.81M183.44 347.4V374.62M184.87 347.4V369.79M186.31 347.4V359.55M187.74 347.4V349.80M189.18 347.4V349.78M190.61 347.4V358.30M192.05 347.4V351.33M193.48 347.4V351.89M200.65 347.4V370.20M202.09 347.4V391.79M203.52 347.4V402.41M204.96 347.4V396.27M206.39 347.4V399.99M207.82 347.4V399.90M209.26 347.4V408.17M210.69 347.4V424.79M212.13 347.4V433.12M213.56 347.4V439.95M215.00 347.4V438.89M216.43 347.4V432.57M217.87 347.4V425.67M219.30 347.4V419.19M220.73 347.4V413.45M222.17 347.4V409.56M223.60 347.4V412.91M225.04 347.4V418.64M226.47 347.4V424.38M227.91 347.4V431.34M229.34 347.4V434.21M230.78 347.4V437.08M232.21 347.4V439.18M233.64 347.4V438.68M235.08 347.4V438.47M236.51 347.4V438.46M237.95 347.4V440.36M239.38 347.4V444.66M240.82 347.4V450.02M242.25 347.4V453.42M243.69 347.4V455.01M245.12 347.4V456.51M246.55 347.4V459.57M247.99 347.4V462.69M249.42 347.4V462.07M250.86 347.4V463.30M252.29 347.4V464.12M253.73 347.4V464.85M255.16 347.4V465.56M256.60 347.4V466.28M258.03 347.4V467.05M259.46 347.4V468.48M260.90 347.4V469.92M262.33 347.4V471.35M263.77 347.4V472.51M265.20 347.4V473.23M266.64 347.4V473.18M268.07 347.4V472.46M269.51 347.4V471.74M270.94 347.4V471.03M272.38 347.4V470.31M273.81 347.4V469.59M275.24 347.4V468.87M276.68 347.4V467.58M278.11 347.4V464.24M279.55 347.4V463.95M280.98 347.4V463.44M282.42 347.4V462.58M283.85 347.4V461.64M285.29 347.4V460.63M286.72 347.4V459.83M288.15 347.4V459.11M289.59 347.4V457.78M291.02 347.4V456.37M292.46 347.4V456.37M293.89 347.4V455.87M295.33 347.4V452.36M296.76 347.4V446.98M298.20 347.4V434.61M299.63 347.4V425.28M301.06 347.4V420.81M302.50 347.4V414.81M303.93 347.4V408.67M305.37 347.4V403.34M306.80 347.4V402.05M308.24 347.4V400.99M309.67 347.4V397.52M311.11 347.4V414.94M312.54 347.4V413.10M313.97 347.4V399.66M315.41 347.4V389.64M316.84 347.4V393.27M318.28 347.4V399.25M319.71 347.4V402.85M321.15 347.4V404.23M322.58 347.4V401.15M324.02 347.4V393.50M325.45 347.4V400.36M326.88 347.4V406.72M328.32 347.4V403.69M329.75 347.4V404.71M331.19 347.4V403.98M332.62 347.4V403.08M334.06 347.4V402.18M335.49 347.4V401.16M336.93 347.4V412.46M338.36 347.4V417.38M339.79 347.4V418.59M341.23 347.4V420.64M342.66 347.4V423.70M344.10 347.4V424.63M345.53 347.4V423.42M346.97 347.4V420.14M348.40 347.4V413.97M349.84 347.4V405.60M351.27 347.4V397.39M352.70 347.4V386.30M354.14 347.4V376.37M355.57 347.4V364.45M357.01 347.4V385.58M358.44 347.4V395.61M359.88 347.4V412.94M361.31 347.4V428.83M362.75 347.4V429.58M364.18 347.4V425.42M365.61 347.4V417.08M367.05 347.4V408.63M368.48 347.4V395.58M369.92 347.4V395.66M371.35 347.4V400.21M372.79 347.4V394.07M374.22 347.4V396.61M375.66 347.4V393.97M377.09 347.4V381.27M378.52 347.4V377.12M379.96 347.4V382.00M381.39 347.4V381.97M382.83 347.4V374.00M384.26 347.4V369.90M385.70 347.4V365.64M387.13 347.4V356.29M388.57 347.4V349.23M390.00 347.4V348.51M391.43 347.4V349.32M392.87 347.4V356.49M394.30 347.4V362.93M395.74 347.4V369.51M397.17 347.4V371.61M398.61 347.4V367.90M400.04 347.4V370.24M401.48 347.4V372.80M402.91 347.4V367.19M404.35 347.4V363.88M405.78 347.4V359.76M407.21 347.4V357.58M408.65 347.4V351.01M415.82 347.4V349.65M417.26 347.4V348.64M422.99 347.4V350.39M424.43 347.4V348.56M425.86 347.4V352.54M427.30 347.4V352.38M431.60 347.4V368.71M433.03 347.4V372.18M434.47 347.4V361.48M435.90 347.4V356.52M437.34 347.4V364.39M438.77 347.4V353.20M447.38 347.4V363.79M448.81 347.4V390.22M450.25 347.4V394.92M451.68 347.4V394.29M453.12 347.4V401.01M454.55 347.4V406.27M455.99 347.4V407.34M457.42 347.4V406.47M458.85 347.4V410.06M460.29 347.4V414.09M461.72 347.4V406.32M463.16 347.4V396.36M464.59 347.4V384.40M466.03 347.4V378.48M467.46 347.4V372.56M468.90 347.4V368.67M470.33 347.4V366.88M471.76 347.4V357.79M473.20 347.4V366.76M474.63 347.4V374.87M476.07 347.4V375.87M477.50 347.4V364.90M478.94 347.4V357.16M480.37 347.4V349.36M486.11 347.4V352.60M487.54 347.4V358.36M488.98 347.4V359.80M490.41 347.4V364.63M491.85 347.4V367.50M493.28 347.4V371.64M494.72 347.4V377.38M496.15 347.4V383.98M497.58 347.4V391.15M499.02 347.4V405.91M500.45 347.4V403.98M501.89 347.4V395.62M503.32 347.4V400.00M504.76 347.4V406.33M506.19 347.4V406.80M507.63 347.4V406.54M509.06 347.4V406.81M510.49 347.4V397.54M511.93 347.4V389.04M513.36 347.4V383.63M514.80 347.4V387.29M516.23 347.4V393.36M517.67 347.4V396.66M519.10 347.4V399.54M520.54 347.4V405.28M521.97 347.4V411.02M523.41 347.4V417.10M524.84 347.4V424.73M526.27 347.4V433.34M527.71 347.4V441.95M529.14 347.4V448.17M530.58 347.4V450.66M532.01 347.4V450.06M533.45 347.4V448.63M534.88 347.4V443.47M536.32 347.4V439.12M537.75 347.4V436.39M539.18 347.4V434.96M540.62 347.4V432.79M542.05 347.4V433.28M543.49 347.4V440.36M544.92 347.4V438.31M546.36 347.4V433.58M547.79 347.4V438.13M549.23 347.4V443.62M550.66 347.4V445.62M552.09 347.4V444.53M553.53 347.4V445.63M554.96 347.4V441.49M556.40 347.4V438.90M557.83 347.4V439.42M559.27 347.4V444.15M560.70 347.4V446.41M562.14 347.4V445.66M563.57 347.4V443.63M565.00 347.4V442.20M566.44 347.4V440.76M567.87 347.4V439.33M569.31 347.4V437.89M570.74 347.4V430.94M572.18 347.4V425.58M573.61 347.4V423.01M575.05 347.4V421.58M576.48 347.4V422.24M577.91 347.4V424.00M579.35 347.4V421.07M580.78 347.4V420.20M582.22 347.4V422.61M583.65 347.4V418.97M585.09 347.4V415.63M586.52 347.4V411.45M587.96 347.4V405.63M589.39 347.4V398.04M590.82 347.4V390.90M592.26 347.4V389.42M593.69 347.4V379.04M595.13 347.4V370.43M596.56 347.4V365.68M598.00 347.4V366.01M599.43 347.4V361.48M600.87 347.4V364.26M602.30 347.4V370.00M603.73 347.4V371.69M605.17 347.4V363.56M606.60 347.4V360.46M608.04 347.4V357.88M609.47 347.4V361.06M610.91 347.4V363.39M612.34 347.4V364.82M613.78 347.4V366.26M615.21 347.4V368.93M616.64 347.4V371.80M618.08 347.4V374.67M619.51 347.4V377.54M620.95 347.4V380.04M622.38 347.4V381.48M623.82 347.4V381.13M625.25 347.4V376.85M626.69 347.4V378.47M628.12 347.4V382.85M629.55 347.4V380.52M630.99 347.4V372.75M632.42 347.4V366.68M633.86 347.4V362.26M635.29 347.4V356.69M636.73 347.4V352.11M639.60 347.4V350.45M641.03 347.4V355.16M642.47 347.4V354.41M643.90 347.4V354.06M645.33 347.4V353.59M646.77 347.4V348.97M649.64 347.4V356.95M651.07 347.4V359.45M652.51 347.4V352.47M659.68 347.4V351.68M661.11 347.4V357.13M662.55 347.4V361.44M663.98 347.4V363.57M665.42 347.4V367.40M666.85 347.4V371.70M668.29 347.4V373.16M669.72 347.4V374.59M671.15 347.4V377.32M672.59 347.4V378.83M674.02 347.4V363.52M675.46 347.4V351.24M676.89 347.4V352.12M678.33 347.4V355.88M679.76 347.4V361.18M681.20 347.4V364.70M682.63 347.4V368.79M684.06 347.4V374.33M685.50 347.4V367.40M686.93 347.4V364.27M688.37 347.4V370.25M689.80 347.4V384.20M691.24 347.4V391.39M692.67 347.4V393.58M694.11 347.4V391.84M695.54 347.4V398.41M696.97 347.4V395.02M698.41 347.4V395.16M699.84 347.4V399.27M701.28 347.4V396.73M702.71 347.4V391.29M704.15 347.4V389.70M705.58 347.4V394.37M707.02 347.4V395.78M708.45 347.4V385.06M709.88 347.4V375.62M711.32 347.4V372.75M712.75 347.4V368.02M714.19 347.4V360.20M715.62 347.4V350.44M718.49 347.4V365.18M719.93 347.4V367.11M721.36 347.4V372.02M722.79 347.4V373.45M724.23 347.4V376.39M725.66 347.4V382.75M727.10 347.4V390.64M728.53 347.4V392.54M729.97 347.4V391.57M731.40 347.4V398.82M732.84 347.4V409.72M734.27 347.4V415.98M735.70 347.4V418.44M737.14 347.4V421.45M738.57 347.4V426.55M740.01 347.4V429.35M741.44 347.4V426.47M742.88 347.4V423.66M744.31 347.4V415.70M745.75 347.4V400.86M747.18 347.4V398.20M748.61 347.4V396.96M750.05 347.4V397.97M751.48 347.4V397.19M752.92 347.4V399.94M754.35 347.4V405.67M755.79 347.4V402.81M757.22 347.4V393.77M758.66 347.4V380.06M760.09 347.4V360.41M761.53 347.4V352.54M762.96 347.4V365.34M768.70 347.4V358.23M770.13 347.4V359.32M771.57 347.4V353.58M773.00 347.4V352.63M774.44 347.4V357.73M775.87 347.4V363.47M777.30 347.4V363.09M778.74 347.4V367.01M780.17 347.4V370.26M781.61 347.4V374.59M783.04 347.4V383.19M784.48 347.4V391.54M785.91 347.4V399.08M787.35 347.4V402.87M788.78 347.4V398.91M790.21 347.4V397.48M791.65 347.4V398.50M793.08 347.4V400.44M794.52 347.4V396.66M795.95 347.4V394.39M797.39 347.4V390.42M798.82 347.4V396.10M800.26 347.4V409.94M801.69 347.4V419.14M803.12 347.4V424.49M804.56 347.4V427.78M805.99 347.4V429.22M807.43 347.4V428.47M808.86 347.4V423.92M810.30 347.4V425.80M811.73 347.4V426.21M813.17 347.4V428.31M814.60 347.4V427.31" stroke="#fa5e5e" stroke-width="1.26" fill="none"/><path d="M17.7 347.3L18.6 353.4L19.6 359.2L20.5 363.0L21.5 368.7L22.5 378.3L23.4 387.9L24.4 395.6L25.3 401.3L26.3 407.1L27.2 412.8L28.2 418.6L29.2 422.4L29.9 430.1L30.7 436.8L103.9 436.8L106.8 411.3L114.4 411.3L115.0 418.9L117.3 418.9L119.2 422.4L160.6 422.5L161.2 425.4L210.7 425.4L213.0 437.0L214.6 445.8L239.0 445.8L241.5 455.0L245.0 455.0L247.7 463.8L259.0 464.3L262.0 468.0L266.0 475.4L341.2 475.4L341.2 472.2L345.2 470.9L349.2 469.6L351.8 464.3L354.5 461.7L358.4 460.3L362.4 457.7L367.7 456.4L370.3 445.8L371.7 429.9L372.1 429.9L435.6 429.9L437.4 424.6L439.3 414.1L441.4 402.2L444.1 400.3L446.2 396.9L447.5 395.5L448.8 400.8L449.9 410.1L453.3 411.4L456.0 415.4L458.6 416.2L461.2 418.6L521.7 418.6L524.4 427.3L526.5 437.9L528.3 448.4L531.0 452.4L605.8 452.4L608.5 447.9L633.3 447.9L635.1 447.1L637.8 445.3L640.4 443.1L643.1 435.2L645.7 425.2L652.3 425.2L653.6 423.3L657.6 422.5L658.9 416.7L660.8 412.7L662.9 404.8L665.0 395.5L666.9 390.3L668.2 384.2L688.0 384.2L690.7 391.6L693.3 395.5L696.0 402.9L731.7 402.9L733.8 411.4L734.8 418.0L737.4 420.7L739.3 428.6L740.6 430.5L814.6 430.5" stroke="#ff9f0f" stroke-width="1.7" fill="none" stroke-linejoin="round"/><path d="M17.7 347.3L18.6 353.4L19.6 359.2L20.5 363.0L21.5 368.7L22.5 378.3L23.4 387.9L24.4 395.6L25.3 401.3L26.3 407.1L27.2 412.8L28.2 418.6L29.2 422.4L29.9 430.1L30.7 436.8L213.0 437.0L214.6 445.8L239.0 445.8L241.5 455.0L245.0 455.0L247.7 463.8L259.0 464.3L262.0 468.0L266.0 475.4L814.6 475.4" stroke="#4caf50" stroke-width="1.5" fill="none" opacity="0.8" stroke-linejoin="round"/><g><circle cx="814" cy="306.2" r="6.2" fill="#fff" stroke="#ab47bc" stroke-width="1"/><path d="M815.6 301.9l-4 4.7h2.4l-1.3 3.9 4.1-4.9h-2.5z" fill="#9c27b0"/><clipPath id="fc"><circle cx="814.5" cy="322.8" r="5.6"/></clipPath><circle cx="814.5" cy="323" r="7.1" fill="#fff" stroke="#f23645" stroke-width="1.4"/><g clip-path="url(#fc)"><rect x="808" y="317" width="14" height="12" fill="#fff"/><rect x="808" y="317.2" width="14" height="1.6" fill="#ef5350"/><rect x="808" y="320.4" width="14" height="1.6" fill="#ef5350"/><rect x="808" y="323.6" width="14" height="1.6" fill="#ef5350"/><rect x="808" y="326.8" width="14" height="1.8" fill="#ef5350"/><rect x="808" y="317" width="7" height="6.4" fill="#2f80ed"/></g></g><g fill="#131722"><path d="M8.25 522.7H16.5V532.6H12.3V527.1H8.25z"/><circle cx="19.3" cy="524.6" r="1.65"/><path d="M22.85 522.7H27.3L23.5 532.6H19z"/></g></svg>
<div class="t hd" style="left:6.9px;top:5.9px;font-size:8.9px;transform-origin:0 50%;transform:scaleX(0.9559);">Alex975 creato con TradingView.com, Apr 05, 2026 09:58 UTC+2</div>
<div class="t lg" style="left:12.7px;top:23.3px;font-size:8.5px;transform-origin:0 50%;transform:scaleX(0.9630);">Ethereum / Dollaro · 1W · Bitstamp</div>
<div class="t lg" style="left:144.7px;top:23.3px;font-size:8.5px;transform-origin:0 50%;transform:scaleX(1.0077);">O - Aper.</div>
<div class="t lg teal" style="left:179px;top:23.3px;font-size:8.5px;transform-origin:0 50%;transform:scaleX(0.9522);">1.983,5</div>
<div class="t lg" style="left:211px;top:23.3px;font-size:8.5px;transform-origin:0 50%;transform:scaleX(0.9841);">H - Max.</div>
<div class="t lg teal" style="left:243.3px;top:23.3px;font-size:8.5px;transform-origin:0 50%;transform:scaleX(0.9098);">2.167,2</div>
<div class="t lg" style="left:273.8px;top:23.3px;font-size:8.5px;transform-origin:0 50%;transform:scaleX(1.0206);">L - Min.</div>
<div class="t lg teal" style="left:303px;top:23.3px;font-size:8.5px;transform-origin:0 50%;transform:scaleX(0.9416);">1.978,9</div>
<div class="t lg" style="left:333.8px;top:23.3px;font-size:8.5px;transform-origin:0 50%;transform:scaleX(0.9713);">C - Chius.</div>
<div class="t lg teal" style="left:371.4px;top:23.3px;font-size:8.5px;transform-origin:0 50%;transform:scaleX(0.9275);">2.037,1</div>
<div class="t lg teal" style="left:402.8px;top:23.3px;font-size:8.5px;transform-origin:0 50%;transform:scaleX(0.9762);">+54,5 (+2,75%)</div>
<div class="t lg" style="left:12.7px;top:338.4px;font-size:8.5px;transform-origin:0 50%;transform:scaleX(0.9833);background:#fff;">Drawdown Horizon Dashboard (52)</div>
<div class="t lg" style="left:149.3px;top:338.4px;font-size:8.5px;transform-origin:0 50%;transform:scaleX(0.9346);color:#fa5555;">−57,4</div>
<div class="t lg" style="left:175px;top:338.4px;font-size:8.5px;transform-origin:0 50%;transform:scaleX(0.9532);color:#ff9800;">−60,4</div>
<div class="t lg" style="left:201px;top:338.4px;font-size:8.5px;transform-origin:0 50%;transform:scaleX(0.9997);color:#4caf50;">−93,8</div>
<div class="t ax" style="left:978.7px;top:24px;font-size:8.9px;transform-origin:0 50%;transform:scaleX(0.8568);">USD</div>
<div style="position:absolute;left:971px;top:39.2px;width:50px;height:8px;overflow:hidden"><div class="t ax" style="left:5px;top:-4.7px;font-size:8.9px;">7.000,0</div></div>
<div class="t ax" style="left:976px;top:56.99865563898135px;font-size:8.9px;">3.000,0</div>
<div class="t ax" style="left:976px;top:77.93397674335144px;font-size:8.9px;">1.400,0</div>
<div class="t ax" style="left:976px;top:101.20850841323457px;font-size:8.9px;">600,0</div>
<div class="t ax" style="left:976px;top:122.14382951760463px;font-size:8.9px;">280,0</div>
<div class="t ax" style="left:976px;top:145.41836118748773px;font-size:8.9px;">120,0</div>
<div class="t ax" style="left:976px;top:169.46672222574682px;font-size:8.9px;">50,0</div>
<div class="t ax" style="left:976px;top:192.01834043799548px;font-size:8.9px;">22,0</div>
<div class="t ax" style="left:976px;top:213.676575px;font-size:8.9px;">10,0</div>
<div class="t ax" style="left:976px;top:238.84628054850637px;font-size:8.9px;">4,0</div>
<div class="t ax" style="left:976px;top:265.78880286472815px;font-size:8.9px;">1,5</div>
<div class="t ax" style="left:976px;top:286.7241239690983px;font-size:8.9px;">0,7</div>
<div class="t ax" style="left:976px;top:309.99865563898135px;font-size:8.9px;">0,3</div>
<div class="lab" style="top:67.8px;width:38.6px;height:11px;line-height:11px;background:#22ab94">2.037,1</div>
<div class="t ax" style="left:976px;top:342.4px;font-size:8.9px;">0,0</div>
<div class="t ax" style="left:976px;top:369.59999999999997px;font-size:8.9px;">−20,0</div>
<div class="t ax" style="left:976px;top:396.79999999999995px;font-size:8.9px;">−40,0</div>
<div class="t ax" style="left:976px;top:451.2px;font-size:8.9px;">−80,0</div>
<div class="t ax" style="left:976px;top:479.29999999999995px;font-size:8.9px;">−100,0</div>
<div class="lab" style="top:420.6px;background:#fa5555">−57,4</div>
<div class="lab" style="top:431.9px;background:#ff9800;color:#131722">−60,4</div>
<div class="lab" style="top:470.5px;background:#4caf50">−93,8</div>
<div class="t ax" style="left:48.1px;top:494.4px;font-size:8.9px;font-weight:bold;transform:translateX(-50%) scaleX(1.0254);">2016</div>
<div class="t ax" style="left:85.5px;top:494.4px;font-size:8.7px;transform:translateX(-50%) scaleX(0.9370);">Lug</div>
<div class="t ax" style="left:122.94999999999999px;top:494.4px;font-size:8.9px;font-weight:bold;transform:translateX(-50%) scaleX(1.0254);">2017</div>
<div class="t ax" style="left:160.35px;top:494.4px;font-size:8.7px;transform:translateX(-50%) scaleX(0.9370);">Lug</div>
<div class="t ax" style="left:197.79999999999998px;top:494.4px;font-size:8.9px;font-weight:bold;transform:translateX(-50%) scaleX(1.0254);">2018</div>
<div class="t ax" style="left:235.2px;top:494.4px;font-size:8.7px;transform:translateX(-50%) scaleX(0.9370);">Lug</div>
<div class="t ax" style="left:272.65px;top:494.4px;font-size:8.9px;font-weight:bold;transform:translateX(-50%) scaleX(1.0254);">2019</div>
<div class="t ax" style="left:310.04999999999995px;top:494.4px;font-size:8.7px;transform:translateX(-50%) scaleX(0.9370);">Lug</div>
<div class="t ax" style="left:347.5px;top:494.4px;font-size:8.9px;font-weight:bold;transform:translateX(-50%) scaleX(1.0254);">2020</div>
<div class="t ax" style="left:384.9px;top:494.4px;font-size:8.7px;transform:translateX(-50%) scaleX(0.9370);">Lug</div>
<div class="t ax" style="left:422.35px;top:494.4px;font-size:8.9px;font-weight:bold;transform:translateX(-50%) scaleX(1.0254);">2021</div>
<div class="t ax" style="left:459.75px;top:494.4px;font-size:8.7px;transform:translateX(-50%) scaleX(0.9370);">Lug</div>
<div class="t ax" style="left:497.2px;top:494.4px;font-size:8.9px;font-weight:bold;transform:translateX(-50%) scaleX(1.0254);">2022</div>
<div class="t ax" style="left:534.6px;top:494.4px;font-size:8.7px;transform:translateX(-50%) scaleX(0.9370);">Lug</div>
<div class="t ax" style="left:572.05px;top:494.4px;font-size:8.9px;font-weight:bold;transform:translateX(-50%) scaleX(1.0254);">2023</div>
<div class="t ax" style="left:609.4499999999999px;top:494.4px;font-size:8.7px;transform:translateX(-50%) scaleX(0.9370);">Lug</div>
<div class="t ax" style="left:646.9px;top:494.4px;font-size:8.9px;font-weight:bold;transform:translateX(-50%) scaleX(1.0254);">2024</div>
<div class="t ax" style="left:684.3px;top:494.4px;font-size:8.7px;transform:translateX(-50%) scaleX(0.9370);">Lug</div>
<div class="t ax" style="left:721.75px;top:494.4px;font-size:8.9px;font-weight:bold;transform:translateX(-50%) scaleX(1.0254);">2025</div>
<div class="t ax" style="left:759.15px;top:494.4px;font-size:8.7px;transform:translateX(-50%) scaleX(0.9370);">Lug</div>
<div class="t ax" style="left:796.6px;top:494.4px;font-size:8.9px;font-weight:bold;transform:translateX(-50%) scaleX(1.0254);">2026</div>
<div class="t ax" style="left:834.0px;top:494.4px;font-size:8.7px;transform:translateX(-50%) scaleX(0.9370);">Lug</div>
<div class="t ax" style="left:871.4499999999999px;top:494.4px;font-size:8.9px;font-weight:bold;transform:translateX(-50%) scaleX(1.0254);">2027</div>
<div class="t ax" style="left:908.8499999999999px;top:494.4px;font-size:8.7px;transform:translateX(-50%) scaleX(0.9370);">Lug</div>
<div class="t ax" style="left:946.3px;top:494.4px;font-size:8.9px;font-weight:bold;transform:translateX(-50%) scaleX(1.0254);">2028</div>
<table><tr><td class="k">Max DD Storico</td><td class="v" style="color:#4caf50">-93.84%</td></tr><tr><td class="k">Max DD Rolling</td><td class="v" style="color:#ff9800">-60.39%</td></tr><tr><td class="k">Durata attuale DD</td><td class="v">32 barre</td></tr><tr><td class="k">Durata max storica</td><td class="v">196 barre</td></tr><tr><td class="k">Rolling effettivo</td><td class="v" style="color:#ff9800">52</td></tr></table>
<div class="t " style="left:32.7px;top:518.8px;font-size:14.6px;font-weight:bold;transform-origin:0 50%;transform:scaleX(0.9285);line-height:18px;height:18px;">TradingView</div>
</body></html>
